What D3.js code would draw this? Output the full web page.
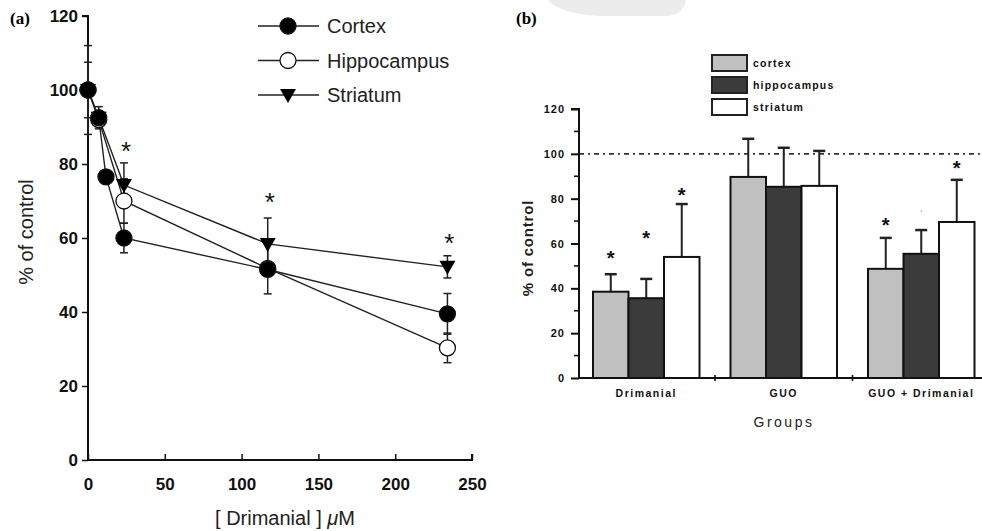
<!DOCTYPE html>
<html><head><meta charset="utf-8">
<script src="https://cdn.jsdelivr.net/npm/d3@7"></script>
<style>body{margin:0;background:#fff}svg{display:block}</style>
</head><body>
<svg id="c" width="982" height="531"></svg>
<script>
// ---------- Panel (a) data ----------
const cortexX    = [0, 7, 11.7, 23.4, 117, 234];
const cortexVals = [100, 92.5, 76.5, 60, 51.5, 39.5];
const cortexErr  = [12, 3, null, 4, null, 5.5];
const hippoX     = [0, 7, 23.4, 117, 234];
const hippoVals  = [100, 92, 70, 51.8, 30.3];
const hippoErr   = [7.5, null, 6, 6.9, 4];
const striX      = [0, 7, 23.4, 117, 234];
const striVals   = [100, 92.5, 74.3, 58.4, 52.2];
const striErr    = [null, null, 6, 7, 3];
const asterA     = [23.4, 117, 234];
const asterAY    = [85.1, 71.4, 60.3];
const yTicksA = [0, 20, 40, 60, 80, 100, 120];
const xTicksA = [0, 50, 100, 150, 200, 250];

// ---------- Panel (b) data ----------
const groups = ["Drimanial", "GUO", "GUO + Drimanial"];
const regions = ["cortex", "hippocampus", "striatum"];
const barCortex = [38.5, 89.7, 48.7];
const barHippo  = [35.6, 85.3, 55.4];
const barStri   = [54, 85.7, 69.6];
const errCortex = [7.8, 17, 13.8];
const errHippo  = [8.6, 17.4, 10.6];
const errStri   = [23.6, 15.6, 18.8];
const starB = [[55, 64, 83], [null, null, null], [69.6, null, 95]];
const yTicksB = [0, 20, 40, 60, 80, 100, 120];
const fillsB = ["#c0c0c0", "#3b3b3b", "#ffffff"];

const svg = d3.select("#c");

// faint watermark shape at the top
svg.append("path").attr("d", "M548,0 L686,0 Q684,14 668,16 L600,16 Q560,14 548,0Z").attr("fill", "#ececec");

// ================= Panel (a) =================
const xA = d3.scaleLinear().domain([0, 250]).range([88, 472]);
const yA = d3.scaleLinear().domain([0, 120]).range([460, 16]);
const gA = svg.append("g");

gA.append("text").attr("x", 10).attr("y", 24).attr("font-family", "Liberation Serif, serif")
  .attr("font-weight", "bold").attr("font-size", 17).text("(a)");

const axY = gA.append("g").attr("transform", `translate(${xA(0)},0)`)
  .call(d3.axisLeft(yA).tickValues(yTicksA).tickSize(6).tickPadding(4));
const axX = gA.append("g").attr("transform", `translate(0,${yA(0)})`)
  .call(d3.axisBottom(xA).tickValues(xTicksA).tickSize(6).tickPadding(12));
[axY, axX].forEach(a => {
  a.select(".domain").attr("stroke", "#111").attr("stroke-width", 2);
  a.selectAll(".tick line").attr("stroke", "#111").attr("stroke-width", 1.5);
  a.selectAll("text").attr("font-family", "Liberation Sans, Arial, sans-serif")
    .attr("font-weight", "bold").attr("font-size", 17).attr("fill", "#111");
});
axY.select(".domain").attr("d", `M-6,${yA(120)}H0V${yA(0)}`);
axX.selectAll(".tick line").attr("y1", -6).attr("y2", 0);
axX.select(".domain").attr("d", `M${xA(0)},0H${xA(250)}V-6`);

gA.append("text").attr("transform", `translate(33,232) rotate(-90)`).attr("text-anchor", "middle")
  .attr("font-family", "Liberation Sans, Arial, sans-serif").attr("font-size", 20).attr("fill", "#222")
  .text("% of control");
const xl = gA.append("text").attr("x", 285).attr("y", 525).attr("text-anchor", "middle")
  .attr("font-family", "Liberation Sans, Arial, sans-serif").attr("font-size", 20).attr("fill", "#222");
xl.append("tspan").text("[ Drimanial ] ");
xl.append("tspan").attr("font-style", "italic").text("μ");
xl.append("tspan").text("M");

const seriesA = [
  {name: "Striatum", xs: striX, vs: striVals, es: striErr, m: "tri"},
  {name: "Hippocampus", xs: hippoX, vs: hippoVals, es: hippoErr, m: "open"},
  {name: "Cortex", xs: cortexX, vs: cortexVals, es: cortexErr, m: "fill"},
];
const line = d3.line().x(d => xA(d[0])).y(d => yA(d[1]));
seriesA.forEach(s => {
  const pts = s.xs.map((x, i) => [x, s.vs[i]]);
  gA.append("path").attr("d", line(pts)).attr("fill", "none").attr("stroke", "#222").attr("stroke-width", 1.4);
});
seriesA.forEach(s => {
  s.xs.forEach((x, i) => {
    const e = s.es[i];
    if (e == null) return;
    const cx = xA(x);
    const g = gA.append("g").attr("stroke", "#222").attr("stroke-width", 1.5);
    g.append("line").attr("x1", cx).attr("x2", cx).attr("y1", yA(s.vs[i] + e)).attr("y2", yA(s.vs[i] - e));
    [s.vs[i] + e, s.vs[i] - e].forEach(v =>
      g.append("line").attr("x1", cx - 4).attr("x2", cx + 4).attr("y1", yA(v)).attr("y2", yA(v)));
  });
});
const triPath = "M-8,-6L8,-6L0,8Z";
function marker(g, m, cx, cy) {
  if (m === "tri") g.append("path").attr("d", triPath).attr("transform", `translate(${cx},${cy})`).attr("fill", "#000");
  else g.append("circle").attr("cx", cx).attr("cy", cy).attr("r", 8)
    .attr("fill", m === "fill" ? "#000" : "#fff").attr("stroke", "#111").attr("stroke-width", 1.3);
}
seriesA.forEach(s => s.xs.forEach((x, i) => marker(gA, s.m, xA(x), yA(s.vs[i]))));
asterA.forEach((x, i) => gA.append("text").attr("x", xA(x) + 2).attr("y", yA(asterAY[i]) + 15)
  .attr("text-anchor", "middle").attr("font-family", "Liberation Sans, Arial, sans-serif")
  .attr("font-size", 26).attr("fill", "#111").text("*"));

// legend (a)
["Cortex", "Hippocampus", "Striatum"].forEach((n, i) => {
  const y = 26 + i * 34.5;
  gA.append("line").attr("x1", 258).attr("x2", 319).attr("y1", y).attr("y2", y).attr("stroke", "#222").attr("stroke-width", 1.4);
  marker(gA, ["fill", "open", "tri"][i], 288, y);
  gA.append("text").attr("x", 327).attr("y", y + 7).attr("font-family", "Liberation Sans, Arial, sans-serif")
    .attr("font-size", 20).attr("fill", "#222").text(n);
});

// ================= Panel (b) =================
const gB = svg.append("g");
const x0 = d3.scaleBand().domain(groups).range([577.5, 990]).padding(0);
const x1 = d3.scaleBand().domain(regions).range([15.5, x0.bandwidth() - 15.5]).padding(0);
const yB = d3.scaleLinear().domain([0, 120]).range([378, 109]);
const fontB = "Liberation Sans, Arial, sans-serif";

gB.append("text").attr("x", 516).attr("y", 24).attr("font-family", "Liberation Serif, serif")
  .attr("font-weight", "bold").attr("font-size", 17).text("(b)");

gB.append("line").attr("x1", 579).attr("x2", 982).attr("y1", yB(100)).attr("y2", yB(100))
  .attr("stroke", "#333").attr("stroke-width", 1.6).attr("stroke-dasharray", "5,4,2,4");

const vals = [barCortex, barHippo, barStri];
const errs = [errCortex, errHippo, errStri];
groups.forEach((g, gi) => {
  regions.forEach((r, ri) => {
    const v = vals[ri][gi], e = errs[ri][gi];
    const bx = x0(g) + x1(r), bw = x1.bandwidth();
    const cx = bx + bw / 2;
    gB.append("line").attr("x1", cx).attr("x2", cx).attr("y1", yB(v)).attr("y2", yB(v + e)).attr("stroke", "#222").attr("stroke-width", 2);
    gB.append("line").attr("x1", cx - 6).attr("x2", cx + 6).attr("y1", yB(v + e)).attr("y2", yB(v + e)).attr("stroke", "#222").attr("stroke-width", 2.5);
    gB.append("rect").attr("x", bx).attr("y", yB(v)).attr("width", bw).attr("height", yB(0) - yB(v))
      .attr("fill", fillsB[ri]).attr("stroke", "#111").attr("stroke-width", 2);
    const s = starB[gi][ri];
    if (s != null) gB.append("text").attr("x", cx).attr("y", yB(s) + 10).attr("text-anchor", "middle")
      .attr("font-family", fontB).attr("font-weight", "bold").attr("font-size", 20).attr("fill", "#111").text("*");
  });
});
gB.append("text").attr("x", x0(groups[2]) + x1(regions[1]) + x1.bandwidth() / 2).attr("y", yB(74) + 4)
  .attr("text-anchor", "middle").attr("font-family", fontB).attr("font-size", 9).attr("fill", "#999").text("'");

const ayB = gB.append("g").attr("transform", `translate(579,0)`)
  .call(d3.axisLeft(yB).tickValues(yTicksB).tickSize(8).tickPadding(6));
ayB.select(".domain").attr("d", `M-8,${yB(120)}H0V${yB(0)}`).attr("stroke", "#111").attr("stroke-width", 2);
ayB.selectAll(".tick line").attr("stroke", "#111").attr("stroke-width", 2);
ayB.selectAll("text").attr("font-family", fontB).attr("font-weight", "bold").attr("font-size", 11)
  .attr("letter-spacing", 1).attr("fill", "#111");
d3.range(10, 120, 20).forEach(v => ayB.append("line").attr("x1", -5).attr("x2", 0).attr("y1", yB(v)).attr("y2", yB(v))
  .attr("stroke", "#111").attr("stroke-width", 1.6));

gB.append("line").attr("x1", 578).attr("x2", 982).attr("y1", yB(0)).attr("y2", yB(0)).attr("stroke", "#111").attr("stroke-width", 2.2);
[groups[1], groups[2]].forEach(g => gB.append("line").attr("x1", x0(g)).attr("x2", x0(g))
  .attr("y1", yB(0) - 3).attr("y2", yB(0) + 3).attr("stroke", "#111").attr("stroke-width", 1.6));
groups.forEach(g => gB.append("text").attr("x", x0(g) + x0.bandwidth() / 2).attr("y", 397).attr("text-anchor", "middle")
  .attr("font-family", fontB).attr("font-weight", "bold").attr("font-size", 10.5).attr("letter-spacing", 1.5)
  .attr("fill", "#111").text(g));
gB.append("text").attr("x", 784).attr("y", 427).attr("text-anchor", "middle").attr("font-family", fontB)
  .attr("font-size", 14).attr("letter-spacing", 2.5).attr("fill", "#222").text("Groups");
gB.append("text").attr("transform", "translate(533,248) rotate(-90)").attr("text-anchor", "middle")
  .attr("font-family", fontB).attr("font-weight", "bold").attr("font-size", 15).attr("letter-spacing", 0.8)
  .attr("fill", "#222").text("% of control");

// legend (b)
regions.forEach((r, i) => {
  const y = 55 + i * 22;
  gB.append("rect").attr("x", 712).attr("y", y).attr("width", 35).attr("height", 16)
    .attr("fill", fillsB[i]).attr("stroke", "#222").attr("stroke-width", 2);
  gB.append("text").attr("x", 753).attr("y", y + 12).attr("font-family", fontB).attr("font-weight", "bold")
    .attr("font-size", 10.5).attr("letter-spacing", 1.2).attr("fill", "#111").text(r);
});
</script>
</body></html>
